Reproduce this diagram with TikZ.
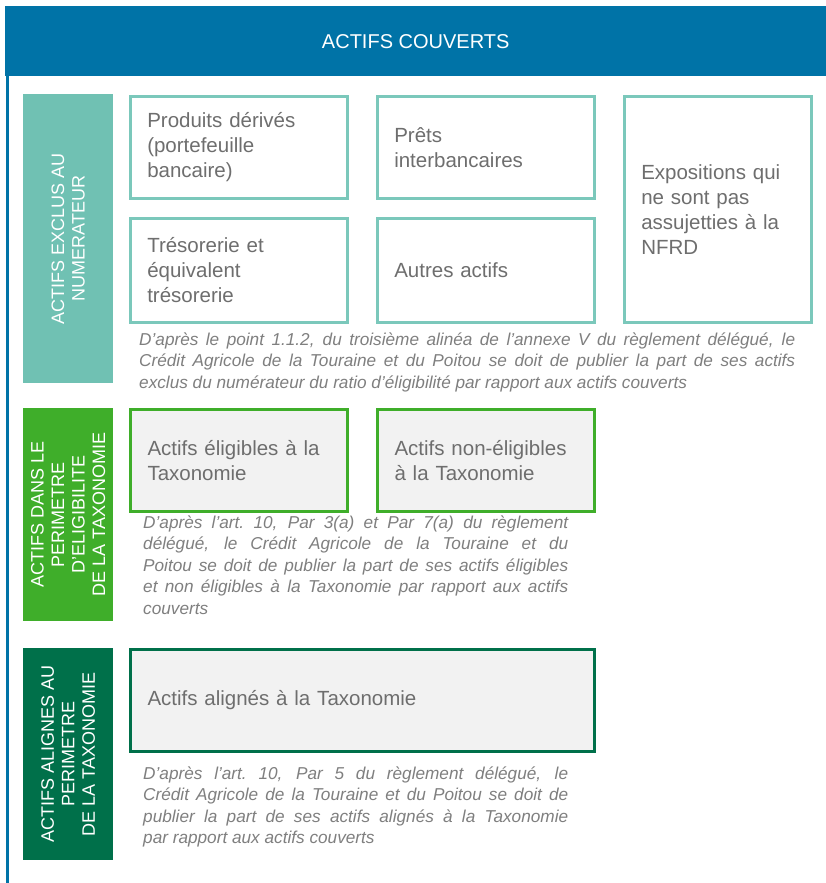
\documentclass[tikz,border=0pt]{standalone}
\usepackage{fontspec}
\setmainfont{Liberation Sans}
\definecolor{hblue}{HTML}{0073A7}
\definecolor{teal1}{HTML}{70C1B3}
\definecolor{tealb}{HTML}{7BC8BB}
\definecolor{green1}{HTML}{3FAE2A}
\definecolor{dgreen}{HTML}{00704A}
\definecolor{boxfill}{HTML}{F2F2F2}
\definecolor{txt}{HTML}{6E6E6E}
\definecolor{notec}{HTML}{7F7F7F}
\begin{document}
\begin{tikzpicture}[x=1pt,y=-1pt,
 sidebar/.style={anchor=north west, minimum width=90pt, inner sep=0pt, draw=none},
 sidetext/.style={rotate=90, align=center, text=white, font=\fontsize{18}{20.5}\selectfont, inner sep=0pt},
 tbox/.style={anchor=north west, draw=tealb, line width=2.5pt, fill=white, inner xsep=17pt, inner ysep=0pt, align=left, text=txt, font=\fontsize{20.5}{25}\selectfont},
 gbox/.style={tbox, draw=green1, line width=3pt, fill=boxfill},
 dbox/.style={tbox, draw=dgreen, line width=3pt, fill=boxfill},
 notetext/.style={anchor=base west, inner sep=0pt, align=justify, text=notec, font=\fontsize{17.2}{21.5}\selectfont\itshape}]
\useasboundingbox (0,0) rectangle (826,883);
\fill[white] (0,0) rectangle (826,883);
% header
\node[fill=hblue, anchor=north west, minimum width=821pt, minimum height=70pt, inner sep=0pt] (hdr) at (5,6) {};
\node[text=white, font=\fontsize{20}{24}\selectfont, inner sep=0pt] (hdrt) at (hdr.center) {ACTIFS COUVERTS};
\coordinate (lb) at (7.5,883);
\draw[hblue, line width=3.5pt] (hdr.south west -| lb) -- (lb);
% side bars
\node[sidebar, fill=teal1, minimum height=289pt] (s1) at (23,94) {};
\node[sidetext] (s1t) at (s1.center) {ACTIFS EXCLUS AU\\NUMERATEUR};
\node[sidebar, fill=green1, minimum height=213pt] (s2) at (23,408) {};
\node[sidetext] (s2t) at (s2.center) {ACTIFS DANS LE\\PERIMETRE\\D’ELIGIBILITE\\DE LA TAXONOMIE};
\node[sidebar, fill=dgreen, minimum height=212pt] (s3) at (23,648) {};
\node[sidetext] (s3t) at (s3.center) {ACTIFS ALIGNES AU\\PERIMETRE\\DE LA TAXONOMIE};
% teal boxes
\node[tbox, text width=183pt, minimum height=102pt] (pd) at (129,95) {Produits dérivés\\(portefeuille\\bancaire)};
\node[tbox, text width=183pt, minimum height=102pt] (pi) at (376,95) {Prêts\\interbancaires};
\node[tbox, text width=153pt, minimum height=226pt] (ex) at (623,95) {Expositions qui\\ne sont pas\\assujetties à la\\NFRD};
\node[tbox, text width=183pt, minimum height=104pt] (tr) at (129,217) {Trésorerie et\\équivalent\\trésorerie};
\node[tbox, text width=183pt, minimum height=104pt] (aa) at (376,217) {Autres actifs};
\node[notetext, text width=656pt] (n1) at (139,345) {D’après le point 1.1.2, du troisième alinéa de l’annexe V du règlement délégué, le\linebreak Crédit Agricole de la Touraine et du Poitou se doit de publier la part de ses actifs\linebreak exclus du numérateur du ratio d’éligibilité par rapport aux actifs couverts};
% green boxes
\node[gbox, text width=183pt, minimum height=102pt] (el) at (129,408) {Actifs éligibles à la\\Taxonomie};
\node[gbox, text width=183pt, minimum height=102pt] (ne) at (376,408) {Actifs non-éligibles\\à la Taxonomie};
\node[notetext, text width=425pt] (n2) at (143,528) {D’après l’art.\ 10, Par 3(a) et Par 7(a) du règlement\linebreak délégué, le Crédit Agricole de la Touraine et du\linebreak Poitou se doit de publier la part de ses actifs éligibles\linebreak et non éligibles à la Taxonomie par rapport aux actifs\linebreak couverts};
% dark green box
\node[dbox, text width=430pt, minimum height=102pt] (al) at (129,648) {Actifs alignés à la Taxonomie};
\node[notetext, text width=425pt] (n3) at (143,779) {D’après l’art.\ 10, Par 5 du règlement délégué, le\linebreak Crédit Agricole de la Touraine et du Poitou se doit de\linebreak publier la part de ses actifs alignés à la Taxonomie\linebreak par rapport aux actifs couverts};
\end{tikzpicture}
\end{document}
